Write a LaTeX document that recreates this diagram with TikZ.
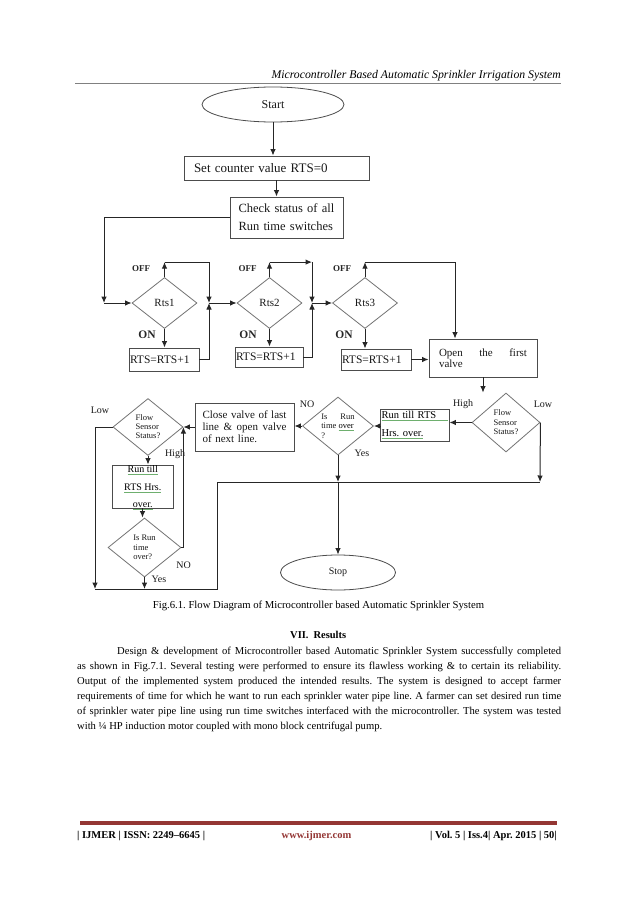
\documentclass[tikz,border=0pt]{standalone}
\usepackage{fontspec}
\setmainfont{Liberation Serif}
\usetikzlibrary{shapes.geometric,arrows.meta}
\definecolor{ulg}{RGB}{110,175,110}
\definecolor{ijred}{RGB}{148,54,52}
\newcommand{\fs}[2]{\fontsize{#1}{#2}\selectfont}
\newcommand{\gul}[1]{\textcolor{ulg}{\underline{\textcolor{black}{#1}}}}
\frenchspacing
\tikzset{
  conn/.style={draw=black!85, line width=1pt},
  arr/.style={conn, -{Latex[length=6.5pt,width=5.5pt]}},
  box/.style={draw=black!70, line width=0.9pt, rectangle, inner sep=0, text=black!90},
  dia/.style={draw=black!55, line width=0.8pt, diamond, inner sep=0, text=black!90},
  ell/.style={draw=black!70, line width=0.8pt, ellipse, inner sep=0, text=black!90},
  lbl/.style={inner sep=0, font=\fs{10}{10}, text=black!90},
  lbloff/.style={inner sep=0, font=\fs{9}{9}\bfseries, text=black!85},
  lblon/.style={inner sep=0, font=\fs{11.5}{12}\bfseries, text=black!85}
}
\begin{document}
\begin{tikzpicture}[x=1pt,y=-1pt]
\useasboundingbox[fill=white] (0,0) rectangle (638,902);
% header
\node[anchor=base east, inner sep=0, font=\fs{11.75}{12}\itshape] (hdr) at (561,78) {Microcontroller Based Automatic Sprinkler Irrigation System};
\draw[black!50, line width=0.8pt] (75,83) -- (561,83);

% nodes
\node[ell, minimum width=142, minimum height=35, font=\fs{12}{12}] (start) at (273,104.5) {Start};
\node[box, minimum width=185, minimum height=24, text width=165, inner xsep=10, align=left, font=\fs{13}{15}] (setc) at (276.5,168) {Set counter value RTS=0};
\node[box, minimum width=113, minimum height=41, text width=101, inner xsep=6, align=left, font=\fs{12.5}{18}] (check) at (286.5,217.5) {\hspace*{2.5pt}Check status of all\\\hspace*{2.5pt}Run time switches};

\node[dia, minimum width=65, minimum height=51, font=\fs{11}{11}] (r1) at (164.5,303) {Rts1};
\node[dia, minimum width=65, minimum height=51, font=\fs{11}{11}] (r2) at (269.5,303) {Rts2};
\node[dia, minimum width=65, minimum height=51, font=\fs{11}{11}] (r3) at (365,303) {Rts3};

\node[box, minimum width=70, minimum height=23, text width=68, inner xsep=1, align=left, font=\fs{11.5}{12}] (b1) at (164,359.5) {RTS=RTS+1};
\node[box, minimum width=68, minimum height=20, text width=66, inner xsep=1, align=left, font=\fs{11.5}{12}] (b2) at (269,357) {RTS=RTS+1};
\node[box, minimum width=70, minimum height=21, text width=68, inner xsep=1, align=left, font=\fs{11.5}{12}] (b3) at (376,359.5) {RTS=RTS+1};

\node[box, minimum width=108, minimum height=38, text width=88, inner xsep=10, align=left, font=\fs{11}{11.5}] (open) at (483,358) {Open\hfill the\hfill first\\valve};

\node[dia, minimum width=68, minimum height=59, align=left, font=\fs{8.5}{9.5}] (fs1) at (506,422.5) {Flow\\Sensor\\Status?};
\node[box, minimum width=69, minimum height=32, text width=66, inner xsep=1.5, align=left, font=\fs{10.5}{18}] (run1) at (414.5,425) {\gul{\makebox[66pt][s]{Run till RTS}}\\\gul{Hrs. over.}};
\node[dia, minimum width=71, minimum height=50, align=left, font=\fs{8.5}{9.5}] (it1) at (338,426) {Is\hspace{13pt}Run\\time \gul{over}\\?};
\node[box, minimum width=99, minimum height=48, text width=84, inner xsep=7.5, align=left, font=\fs{11}{12}] (close) at (244.5,427) {Close\hfill valve\hfill of\hfill last\\line\hfill\&\hfill open\hfill valve\\of next line.};
\node[dia, minimum width=70, minimum height=57, align=left, font=\fs{8.5}{9}] (fs2) at (148,427) {Flow\\Sensor\\Status?};
\node[box, minimum width=61, minimum height=43] (run2) at (142.5,486.5) {};
\node[inner sep=0, align=center, font=\fs{10}{17.5}, text=black!90] (run2t) at (142.8,488) {\gul{Run till}\\\gul{RTS Hrs.}\\\gul{over.}};
\node[dia, minimum width=73, minimum height=59, align=left, font=\fs{8.5}{9.5}] (isr) at (144.5,547.5) {Is Run\\time\\over?};
\node[ell, minimum width=115, minimum height=35, font=\fs{10}{10}] (stop) at (338,572.5) {Stop};

% labels
\node[lbloff] (off1) at (141,269) {OFF};
\node[lbloff] (off2) at (247.5,269) {OFF};
\node[lbloff] (off3) at (342,269) {OFF};
\node[lblon] (on1) at (147,335) {ON};
\node[lblon] (on2) at (248,335) {ON};
\node[lblon] (on3) at (344,335) {ON};
\node[lbl] (hi1) at (463,404) {High};
\node[lbl] (lo1) at (543,404) {Low};
\node[lbl] (no1) at (307,404) {NO};
\node[lbl] (yes1) at (362,453) {Yes};
\node[lbl] (lo2) at (100,410) {Low};
\node[lbl] (hi2) at (175,454) {High};
\node[lbl] (no2) at (183.5,565) {NO};
\node[lbl] (yes2) at (159,579) {Yes};

% junction coordinates
\coordinate (j0) at (104,303);
\coordinate (j1) at (209,303);
\coordinate (j2) at (312,303);
\coordinate (jr) at (540,482);
\coordinate (jl) at (217,482);
\coordinate (jb) at (217,589);
\coordinate (jb1) at (95,589);

% connectors
\draw[arr] (start.south) -- (start.south |- setc.north);
\draw[arr] ([xshift=-10pt]check.north |- setc.south) -- ([xshift=-10pt]check.north);
\draw[arr] (check.west) -| (j0);
\draw[arr] (j0) -- (r1.west);
\draw[arr] (r1.north) -- ++(0,-15) coordinate (t1);
\draw[arr] (t1) -| (j1);
\draw[arr] (b1.east) -| (j1);
\draw[arr] (j1) -- (r2.west);
\draw[arr] (r2.north) -- ++(0,-15) coordinate (t2);
\draw[arr] (t2) -- (t2 -| j2);
\draw[arr] (t2 -| j2) -- (j2);
\draw[arr] (b2.east) -| (j2);
\draw[arr] (j2) -- (r3.west);
\draw[arr] (r3.north) -- ++(0,-15) coordinate (t3);
\draw[arr] (t3) -| ([xshift=-28pt]open.north);
\draw[arr] (r1.south) -- (r1.south |- b1.north);
\draw[arr] (r2.south) -- (r2.south |- b2.north);
\draw[arr] (r3.south) -- (r3.south |- b3.north);
\draw[arr] (b3.east) -- (b3.east -| open.west);
\draw[arr] (open.south) -- (open.south |- fs1.north);
\draw[arr] (fs1.west) -- (fs1.west -| run1.east);
\draw[arr] (fs1.east) -- (jr);
\draw[arr] (run1.west |- it1.east) -- (it1.east);
\draw[arr] (it1.west) -- (it1.west -| close.east);
\draw[arr] (close.west) -- (close.west -| fs2.east);
\draw[arr] (fs2.west) -| (jb1);
\draw[arr] (fs2.south) -- (fs2.south |- run2.north);
\draw[arr] (run2.south) -- (run2.south |- isr.north);
\draw[arr] (isr.east) -| (fs2.east);
\draw[arr] (isr.south) -- (isr.south |- jb1);
\draw[conn] (jb1) -- (jb) -- (jl) -- (jr);
\draw[arr] (it1.south) -- (it1.south |- jr);
\draw[arr] (it1.south |- jr) -- (stop.north);

% caption and text
\node[anchor=base, inner sep=0, font=\fs{10.7}{12}] (cap) at (318.5,608.5) {Fig.6.1. Flow Diagram of Microcontroller based Automatic Sprinkler System};
\node[anchor=base west, inner sep=0, font=\fs{10.5}{12}\bfseries] (sec) at (290,638.5) {VII.\hspace{5pt}Results};
\node[anchor=base west, inner sep=0] (body) at (77,654.5) {\parbox[t]{484pt}{\fs{10.6}{15}%
\makebox[484pt][s]{\hspace*{40pt}Design \& development of Microcontroller based Automatic Sprinkler System successfully completed}\\
\makebox[484pt][s]{as shown in Fig.7.1. Several testing were performed to ensure its flawless working \& to certain its reliability.}\\
\makebox[484pt][s]{Output of the implemented system produced the intended results. The system is designed to accept farmer}\\
\makebox[484pt][s]{requirements of time for which he want to run each sprinkler water pipe line. A farmer can set desired run time}\\
\makebox[484pt][s]{of sprinkler water pipe line using run time switches interfaced with the microcontroller. The system was tested}\\
with ¼ HP induction motor coupled with mono block centrifugal pump.}};

% footer
\draw[ijred, line width=3.5pt] (80,823) -- (557,823);
\node[anchor=base west, inner sep=0, font=\fs{10.5}{12}\bfseries] (f1) at (77,838.5) {| IJMER | ISSN: 2249--6645 |};
\node[anchor=base, inner sep=0, font=\fs{10.5}{12}\bfseries, text=ijred] (f2) at (316.5,838.5) {www.ijmer.com};
\node[anchor=base east, inner sep=0, font=\fs{10.5}{12}\bfseries] (f3) at (557,838.5) {| Vol. 5 | Iss.4| Apr. 2015 | 50|};
\end{tikzpicture}
\end{document}
